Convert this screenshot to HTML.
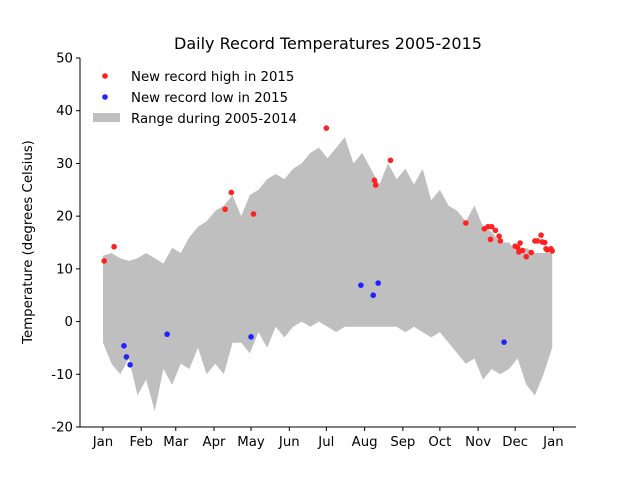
<!DOCTYPE html>
<html><head><meta charset="utf-8"><style>
body{margin:0;background:#fff}
svg{display:block;font-family:"DejaVu Sans","Liberation Sans",sans-serif}
</style></head><body>
<svg id="chart" width="640" height="480">
<rect width="640" height="480" fill="#fff"/>
<text x="328" y="49" text-anchor="middle" font-size="16" fill="#000">Daily Record Temperatures 2005-2015</text>
<text transform="translate(32,242) rotate(-90)" text-anchor="middle" font-size="13.3">Temperature (degrees Celsius)</text>
<g id="band"></g>
<g id="pts"></g>
<g id="axes"></g>
<g>
<circle cx="105" cy="76" r="2.8" fill="#f22"/>
<text x="131" y="81" font-size="13.3">New record high in 2015</text>
<circle cx="105" cy="97" r="2.8" fill="#22f"/>
<text x="131" y="102" font-size="13.3">New record low in 2015</text>
<rect x="93" y="113" width="27" height="9" fill="#bfbfbf"/>
<text x="131" y="123" font-size="13.3">Range during 2005-2014</text>
</g>
</svg>
<script>
const bandDays=[0,7,14,21,28,35,42,49,56,63,70,77,84,91,98,105,112,119,126,133,140,147,154,161,168,175,182,189,196,203,210,217,224,231,238,245,252,259,266,273,280,287,294,301,308,315,322,329,336,343,350,357,364];
const bandHigh=[12.5,13,12,11.5,12,13,12,11,14,13,16,18,19,21,22,24,20,24,25,27,28,27,29,30,32,33,31,33,35,30,32,29,26,30,27,29,26,29,23,25,22,21,19,22,18,17,15,15,13,14,13,13,13];
const bandLow=[-4,-8,-10,-7,-14,-11,-17,-9,-12,-8,-9,-5,-10,-8,-10,-4,-4,-6,-2,-5,-1,-3,-1,0,-1,0,-1,-2,-1,-1,-1,-1,-1,-1,-1,-2,-1,-2,-3,-2,-4,-6,-8,-7,-11,-9,-10,-9,-7,-12,-14,-10,-5];
const highDays=[1,9,99,104,122,181,220,221,233,294,309,312,315,318,314,321,322,334,336,338,337,340,343,347,350,352,355,356,359,358,360,363,364];
const highTemps=[11.5,14.2,21.3,24.5,20.4,36.7,26.8,25.9,30.6,18.7,17.6,18,18,17.3,15.6,16.2,15.3,14.3,14,14.9,13.2,13.5,12.3,13.1,15.3,15.3,16.4,15.1,13.8,15,13.6,13.8,13.4];
const lowDays=[17,19,22,52,120,209,219,223,325];
const lowTemps=[-4.6,-6.7,-8.2,-2.4,-2.9,6.9,5.0,7.3,-3.9];
const monthLabels=["Jan","Feb","Mar","Apr","May","Jun","Jul","Aug","Sep","Oct","Nov","Dec","Jan"];
const monthDays=[0,31,59,90,120,151,181,212,243,273,304,334,365];
const yTicks=[-20,-10,0,10,20,30,40,50];
const NS="http://www.w3.org/2000/svg";
const X0=80,X1=576,Y0=427,Y1=58,DMIN=-18.6,DMAX=383.3,TMIN=-20,TMAX=50;
const sx=d=>X0+(d-DMIN)/(DMAX-DMIN)*(X1-X0);
const sy=t=>Y0-(t-TMIN)/(TMAX-TMIN)*(Y0-Y1);
function mk(tag,attrs,parent){const e=document.createElementNS(NS,tag);for(const k in attrs)e.setAttribute(k,attrs[k]);parent.appendChild(e);return e;}
const band=document.getElementById('band');
let d="";
bandDays.forEach((v,i)=>{d+=(i?"L":"M")+sx(v).toFixed(1)+","+sy(bandHigh[i]).toFixed(1);});
for(let i=bandDays.length-1;i>=0;i--)d+="L"+sx(bandDays[i]).toFixed(1)+","+sy(bandLow[i]).toFixed(1);
const bp=mk('path',{d:d+"Z",fill:"#bfbfbf"},band);


const pts=document.getElementById('pts');
highDays.forEach((v,i)=>{const c=mk('circle',{cx:sx(v),cy:sy(highTemps[i]),r:2.8,fill:"#f22"},pts);

});
lowDays.forEach((v,i)=>{const c=mk('circle',{cx:sx(v),cy:sy(lowTemps[i]),r:2.8,fill:"#22f"},pts);

});
const ax=document.getElementById('axes');
const l1=mk('line',{x1:X0,y1:Y1,x2:X0,y2:Y0,stroke:"#000","stroke-width":1},ax);


const l2=mk('line',{x1:X0,y1:Y0,x2:X1,y2:Y0,stroke:"#000","stroke-width":1},ax);


yTicks.forEach(t=>{const y=sy(t);mk('line',{x1:X0-4,y1:y,x2:X0,y2:y,stroke:"#000"},ax);
const tx=mk('text',{x:X0-7,y:y+4.5,"text-anchor":"end","font-size":13.3},ax);tx.textContent=t;

});
monthDays.forEach((m,i)=>{const x=sx(m);mk('line',{x1:x,y1:Y0,x2:x,y2:Y0+4,stroke:"#000"},ax);
const tx=mk('text',{x:x,y:Y0+19,"text-anchor":"middle","font-size":13.3},ax);tx.textContent=monthLabels[i];

});
</script>
</body></html>
